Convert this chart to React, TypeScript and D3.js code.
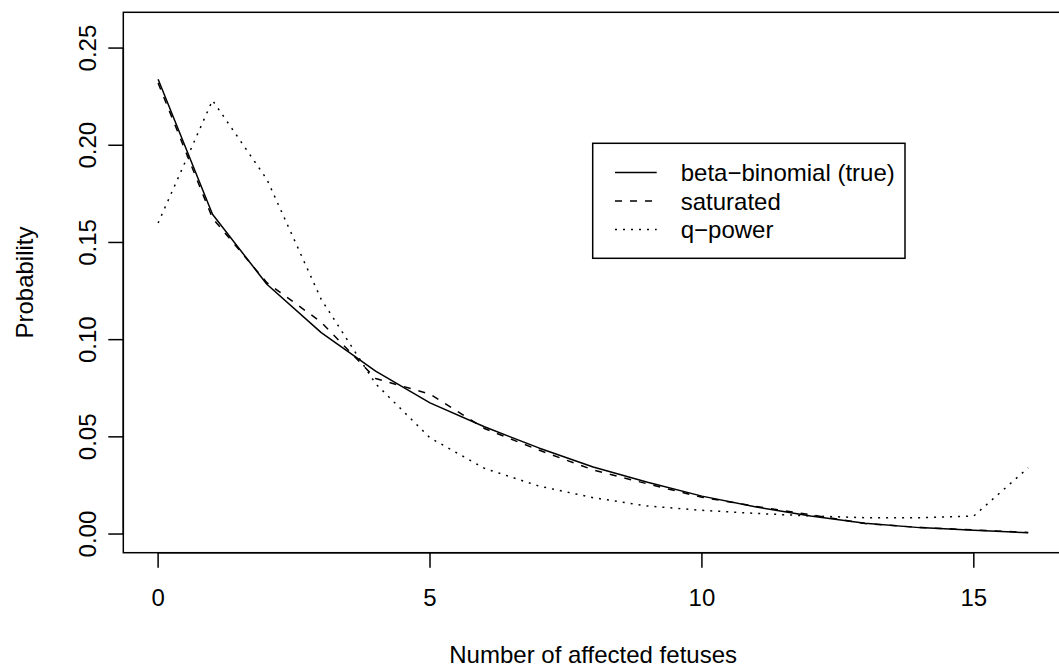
import React from "react";
import * as d3 from "d3";

const counts = [0, 1, 2, 3, 4, 5, 6, 7, 8, 9, 10, 11, 12, 13, 14, 15, 16];
const betaBinomial = [0.234, 0.1645, 0.1285, 0.1036, 0.0838, 0.0675, 0.0552, 0.0443, 0.0345, 0.0266, 0.0195, 0.0139, 0.0093, 0.0055, 0.0033, 0.0019, 0.0007];
const saturated = [0.232, 0.1625, 0.1293, 0.109, 0.080, 0.072, 0.0543, 0.0432, 0.033, 0.0258, 0.0189, 0.0142, 0.0099, 0.0054, 0.0034, 0.0021, 0.0008];
const qPower = [0.160, 0.2231, 0.1825, 0.1207, 0.0773, 0.0495, 0.0338, 0.0247, 0.0187, 0.0144, 0.0122, 0.0106, 0.0093, 0.0084, 0.0084, 0.0093, 0.0341];

const xTicks = [0, 5, 10, 15];
const yTicks = [0, 0.05, 0.1, 0.15, 0.2, 0.25];
const yTickLabels = ["0.00", "0.05", "0.10", "0.15", "0.20", "0.25"];

const legendLabels = ["beta\u2212binomial (true)", "saturated", "q\u2212power"];
const dashes = ["none", "7,8", "2,6"];

const W = 1059;
const H = 671;
const FONT = "'Liberation Sans', Arial, Helvetica, sans-serif";

export default function App() {
  const x = d3.scaleLinear().domain([-0.64, 16.64]).range([123.3, 1063]);
  const y = d3.scaleLinear().domain([-0.0096, 0.2684]).range([552.7, 12.3]);
  const [x0, x1] = x.range();
  const [yb, yt] = y.range();

  const line = (vals: number[]) =>
    d3
      .line<number>()
      .x((_, i) => x(counts[i]))
      .y((d) => y(d))(vals) || "";

  const series = [betaBinomial, saturated, qPower];
  const sw = 1.5;

  const leg = { x: 592.7, y: 143.3, w: 312.3, h: 115, row0: 172.5, rowH: 28.5 };

  return (
    <svg
      width={W}
      height={H}
      style={{ position: "fixed", left: 0, top: 0, background: "#fff" }}
      fontFamily={FONT}
    >
      <rect x={0} y={0} width={W} height={H} fill="#fff" />
      {/* plot box */}
      <rect x={x0} y={yt} width={x1 - x0} height={yb - yt} fill="none" stroke="#000" strokeWidth={sw} />
      {/* series */}
      {series.map((s, k) => (
        <path
          key={k}
          d={line(s)}
          fill="none"
          stroke="#000"
          strokeWidth={sw}
          strokeDasharray={dashes[k]}
          strokeLinejoin="round"
        />
      ))}
      {/* x axis */}
      <line x1={x(xTicks[0])} x2={x(xTicks[xTicks.length - 1])} y1={yb} y2={yb} stroke="#000" strokeWidth={sw} />
      {xTicks.map((t) => (
        <g key={t}>
          <line x1={x(t)} x2={x(t)} y1={yb} y2={yb + 15} stroke="#000" strokeWidth={sw} />
          <text x={x(t)} y={606} fontSize={24} textAnchor="middle" fill="#000">
            {t}
          </text>
        </g>
      ))}
      {/* y axis */}
      <line x1={x0} x2={x0} y1={y(yTicks[0])} y2={y(yTicks[yTicks.length - 1])} stroke="#000" strokeWidth={sw} />
      {yTicks.map((t, i) => (
        <g key={t}>
          <line x1={x0 - 15} x2={x0} y1={y(t)} y2={y(t)} stroke="#000" strokeWidth={sw} />
          <text
            transform={`translate(96,${y(t)}) rotate(-90)`}
            fontSize={24}
            textAnchor="middle"
            fill="#000"
          >
            {yTickLabels[i]}
          </text>
        </g>
      ))}
      {/* axis titles */}
      <text x={(x0 + x1) / 2} y={663.3} fontSize={24} textAnchor="middle" fill="#000">
        Number of affected fetuses
      </text>
      <text
        transform={`translate(32.5,${(yt + yb) / 2}) rotate(-90)`}
        fontSize={24}
        textAnchor="middle"
        fill="#000"
      >
        Probability
      </text>
      {/* legend */}
      <rect x={leg.x} y={leg.y} width={leg.w} height={leg.h} fill="#fff" stroke="#000" strokeWidth={sw} />
      {legendLabels.map((lab, k) => {
        const ry = leg.row0 + k * leg.rowH;
        return (
          <g key={lab}>
            <line x1={615} x2={656.7} y1={ry} y2={ry} stroke="#000" strokeWidth={sw} strokeDasharray={dashes[k]} />
            <text x={680.7} y={ry + 8.5} fontSize={24} fill="#000">
              {lab}
            </text>
          </g>
        );
      })}
    </svg>
  );
}
